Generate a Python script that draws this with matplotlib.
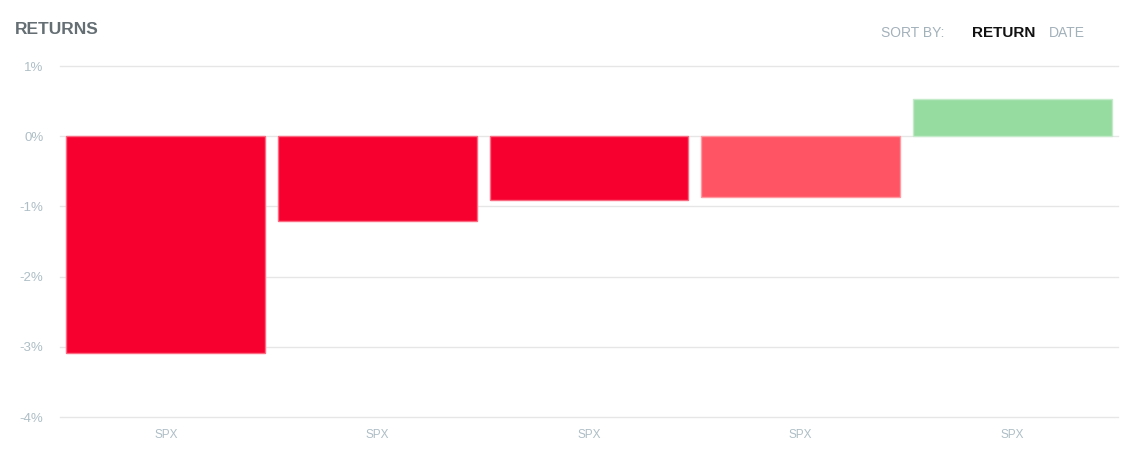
import matplotlib.pyplot as plt
from matplotlib.ticker import FuncFormatter

plt.rcParams['font.family'] = ['Liberation Sans', 'DejaVu Sans']

tickers = ['SPX', 'SPX', 'SPX', 'SPX', 'SPX']
returns = [-3.09, -1.21, -0.91, -0.87, 0.53]
bar_colors = ['#F7002F', '#F7002F', '#F7002F', '#FF5463', '#96DBA0']
edge_colors = ['#FA6A80', '#FA6A80', '#FA6A80', '#FF9AA3', '#C4EBC9']
y_ticks = [1, 0, -1, -2, -3, -4]

W, H = 1140, 471
fig = plt.figure(figsize=(W / 100, H / 100), dpi=100)
ax = fig.add_axes([60 / W, (H - 417) / H, (1118 - 60) / W, (417 - 66) / H])

x = list(range(len(returns)))
ax.bar(x, returns, width=0.94, color=bar_colors, edgecolor=edge_colors,
       linewidth=1, zorder=3)

ax.set_xlim(-0.5, len(returns) - 0.5)
ax.set_ylim(-4, 1)
ax.set_yticks(y_ticks)
ax.yaxis.set_major_formatter(FuncFormatter(lambda v, p: '%d%%' % v))
ax.set_xticks(x)
ax.set_xticklabels(tickers)
ax.grid(axis='y', color='#E6E6E6', linewidth=1, zorder=0)
for gl in ax.get_ygridlines():
    gl.set_clip_on(False)
for s in ax.spines.values():
    s.set_visible(False)
ax.tick_params(axis='both', length=0, colors='#AEBEC6')
ax.tick_params(axis='y', labelsize=9.5, pad=12)
ax.tick_params(axis='x', labelsize=8.5, pad=9)

fig.text(15 / W, 1 - 29 / H, 'RETURNS', fontsize=12.5, fontweight='bold',
         color='#646E73', va='center', ha='left')
fig.text(881 / W, 1 - 33 / H, 'SORT BY:', fontsize=10, color='#A3B1BA',
         va='center', ha='left')
fig.text(972 / W, 1 - 33 / H, 'RETURN', fontsize=11, fontweight='bold',
         color='#111111', va='center', ha='left')
fig.text(1049 / W, 1 - 33 / H, 'DATE', fontsize=10, color='#A3B1BA',
         va='center', ha='left')

fig.savefig('out.png', dpi=100)
